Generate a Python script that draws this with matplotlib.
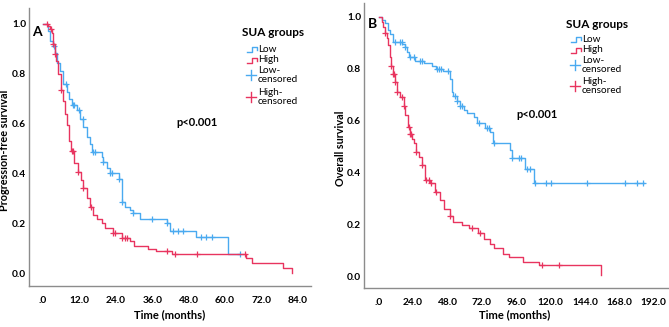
import numpy as np
import matplotlib
matplotlib.use("Agg")
import matplotlib.pyplot as plt
from matplotlib.lines import Line2D

# ---------------- data ----------------
# Panel A: progression-free survival (months)
a_low_t = [0, 1.7, 2.3, 3.2, 4, 4.5, 5.6, 6.7, 7.8, 8.7, 9.5, 11.1, 12.2, 13.3, 14.4, 15.5, 16,
           19.3, 19.9, 21, 22, 25.1, 25.9, 26.2, 27, 28.7, 29.7, 32, 40.7, 41.8, 50.3, 61, 65]
a_low_s = [1.0, 0.97, 0.93, 0.91, 0.885, 0.845, 0.81, 0.76, 0.725, 0.70, 0.675, 0.655, 0.62, 0.585,
           0.545, 0.52, 0.487, 0.467, 0.447, 0.42, 0.403, 0.376, 0.333, 0.286, 0.266, 0.253, 0.24,
           0.217, 0.20, 0.169, 0.145, 0.075, 0.075]
a_low_cens = [3.7, 7.6, 9.8, 10.3, 12.0, 13.1, 16.6, 17.3, 19.9, 22.0, 22.6, 25.1, 26.2, 29.7, 35.8,
              40.7, 42.9, 44.4, 46.2, 52.0, 53.7, 55.6, 64.9]

a_high_t = [0, 1.5, 2.3, 2.9, 3.4, 4, 4.3, 5, 5.8, 6.5, 7.2, 7.8, 8.7, 9.1, 10.2, 11.6, 12.4, 13.3,
            14.4, 15.5, 16.6, 17.7, 19.3, 20.4, 23.2, 25.9, 28.7, 30, 34.7, 37.4, 42.4, 66.8, 68.7,
            79.1, 82, 82]
a_high_s = [1.0, 0.99, 0.98, 0.965, 0.92, 0.88, 0.85, 0.80, 0.735, 0.69, 0.64, 0.595, 0.53, 0.49,
            0.44, 0.407, 0.373, 0.34, 0.30, 0.266, 0.233, 0.216, 0.20, 0.18, 0.162, 0.14, 0.13,
            0.108, 0.097, 0.088, 0.077, 0.059, 0.04, 0.02, 0.0, 0.0]
a_high_cens = [1.2, 2.6, 3.4, 4.0, 5.9, 9.5, 10.0, 11.6, 13.3, 15.7, 23.2, 23.8, 26.1, 27.0, 27.8,
               40.7, 43.5, 50.6, 66.5]

# Panel B: overall survival (months)
b_low_t = [0, 2, 4.5, 6.5, 8, 9.7, 16.5, 18.4, 19.8, 21, 25.4, 31.3, 37, 40, 45.2, 49.9, 51, 52.2,
           54.5, 56.9, 59.2, 61.5, 66.5, 68.5, 74, 78, 79.5, 91.8, 93, 101.9, 108.2, 185]
b_low_s = [1.0, 0.99, 0.976, 0.95, 0.935, 0.905, 0.895, 0.885, 0.865, 0.845, 0.832, 0.824, 0.81,
           0.80, 0.79, 0.76, 0.71, 0.695, 0.675, 0.655, 0.642, 0.63, 0.615, 0.59, 0.572, 0.555,
           0.513, 0.486, 0.455, 0.413, 0.36, 0.36]
b_low_cens = [11.6, 15, 16, 18.4, 21.9, 24.3, 28.9, 30.5, 40.6, 42.2, 43.6, 48.7, 53.4, 54.5, 56.9,
              58, 70, 75.5, 77, 80.2, 93.2, 97.8, 99, 103.7, 105.5, 109.4, 117, 120.6, 145.3,
              172.2, 180.4, 184.4]

b_high_t = [0, 2.1, 3.2, 4.4, 5.6, 6.8, 8, 8.7, 9.7, 11, 12.7, 15, 17.3, 18.4, 20.3, 21.9, 23.1,
            24.3, 26.1, 28, 30.1, 32.4, 35.9, 39.4, 42.9, 45.4, 49.9, 52.2, 58, 62.7, 69, 73.2,
            77.4, 80.6, 86.6, 91.3, 100.7, 111.6, 155, 155]
b_high_s = [1.0, 0.98, 0.96, 0.94, 0.92, 0.89, 0.845, 0.81, 0.78, 0.75, 0.71, 0.69, 0.655, 0.62,
            0.575, 0.548, 0.53, 0.515, 0.48, 0.46, 0.43, 0.37, 0.36, 0.325, 0.293, 0.26, 0.23,
            0.21, 0.198, 0.184, 0.168, 0.145, 0.122, 0.107, 0.086, 0.072, 0.055, 0.042, 0.004,
            0.004]
b_high_cens = [4.4, 8.7, 9.7, 10.4, 11.2, 12.7, 16.3, 17.3, 20.9, 21.9, 22.5, 26.1, 30.3, 33.1,
               34.8, 36.4, 40.1, 49.9, 65, 70.4, 114, 125.8]

a_xticks = [0, 12, 24, 36, 48, 60, 72, 84]
a_xlabels = [".0", "12.0", "24.0", "36.0", "48.0", "60.0", "72.0", "84.0"]
b_xticks = [0, 24, 48, 72, 96, 120, 144, 168, 192]
b_xlabels = [".0", "24.0", "48.0", "72.0", "96.0", "120.0", "144.0", "168.0", "192.0"]
yticks = [0.0, 0.2, 0.4, 0.6, 0.8, 1.0]
ylabels = ["0.0", "0.2", "0.4", "0.6", "0.8", "1.0"]
legend_title = "SUA groups"
legend_entries = ["Low", "High", "Low-\ncensored", "High-\ncensored"]

# ---------------- style ----------------
BLUE = "#4aaaf0"
RED = "#e8345f"
SPINE = "#8c8c8c"
FONT = "Lato"
W, H = 669, 327

fig = plt.figure(figsize=(W / 100, H / 100), dpi=100)


def px_axes(l, r, t, b):
    return fig.add_axes([l / W, 1 - b / H, (r - l) / W, (b - t) / H])


def km(ax, t, s, cens, color):
    ax.step(t, s, where="post", color=color, lw=1.0)
    t = np.asarray(t)
    s = np.asarray(s)
    idx = np.searchsorted(t, cens, side="right") - 1
    ax.plot(cens, s[idx], ls="none", marker="+", ms=5, mew=0.9, color=color)


def style(ax, xt, xl, xlim, ylim):
    ax.set_xlim(*xlim)
    ax.set_ylim(*ylim)
    ax.set_xticks(xt)
    ax.set_xticklabels(xl)
    ax.set_yticks(yticks)
    ax.set_yticklabels(ylabels)
    for sp in ["top", "right"]:
        ax.spines[sp].set_visible(False)
    for sp in ["left", "bottom"]:
        ax.spines[sp].set_color(SPINE)
        ax.spines[sp].set_linewidth(1.0)
    ax.tick_params(length=0, labelsize=7.3)
    ax.tick_params(axis="y", pad=2)
    ax.tick_params(axis="x", pad=7)
    for lab in ax.get_xticklabels() + ax.get_yticklabels():
        lab.set_fontweight("bold")
        lab.set_family(FONT)


def legend(x0, ytitle, ys):
    fig.text((x0 + 16) / W, 1 - ytitle / H, legend_title, family=FONT, fontweight="bold",
             fontsize=8.5, ha="center", va="center")
    colors = [BLUE, RED, BLUE, RED]
    for i, (lab, y) in enumerate(zip(legend_entries, ys)):
        c = colors[i]
        if i < 2:
            xs = np.array([0, 0.45, 0.45, 1.0, 1.0]) * 10 + x0 - 10
            yy = y + np.array([3, 3, -2, -2, 1])
            fig.add_artist(Line2D(xs / W, 1 - yy / H, color=c, lw=1.0))
        else:
            fig.add_artist(Line2D([(x0 - 11) / W, (x0 - 1) / W], [1 - y / H] * 2, color=c, lw=1.0))
            fig.add_artist(Line2D([(x0 - 6) / W] * 2, [1 - (y - 5) / H, 1 - (y + 5) / H],
                                  color=c, lw=1.0))
        fig.text((x0 + 1) / W, 1 - y / H, lab, family=FONT, fontsize=7.2, ha="left",
                 va="center", linespacing=0.95)


# Panel A
axA = px_axes(29, 311, 8, 286)
km(axA, a_low_t, a_low_s, a_low_cens, BLUE)
km(axA, a_high_t, a_high_s, a_high_cens, RED)
style(axA, a_xticks, a_xlabels, (-4.6, 88.3), (-0.052, 1.064))
fig.text(5 / W, 1 - 150 / H, "Progression-free survival", rotation=90, family=FONT,
         fontweight="bold", fontsize=7.8, ha="center", va="center")
fig.text(170 / W, 1 - 315 / H, "Time (months)", family=FONT, fontweight="bold", fontsize=8,
         ha="center", va="center")
fig.text(37 / W, 1 - 32 / H, "A", family=FONT, fontweight="bold", fontsize=10, ha="center",
         va="center")
fig.text(197 / W, 1 - 122 / H, "p<0.001", family=FONT, fontweight="bold", fontsize=8,
         ha="center", va="center")
legend(257, 33, [49, 60, 75, 97])

# Panel B
axB = px_axes(364, 668, 3, 288)
km(axB, b_low_t, b_low_s, b_low_cens, BLUE)
km(axB, b_high_t, b_high_s, b_high_cens, RED)
style(axB, b_xticks, b_xlabels, (-10.3, 202), (-0.046, 1.054))
fig.text(340 / W, 1 - 148 / H, "Overall survival", rotation=90, family=FONT,
         fontweight="bold", fontsize=7.8, ha="center", va="center")
fig.text(515 / W, 1 - 315 / H, "Time (months)", family=FONT, fontweight="bold", fontsize=8,
         ha="center", va="center")
fig.text(372 / W, 1 - 24 / H, "B", family=FONT, fontweight="bold", fontsize=10, ha="center",
         va="center")
fig.text(537 / W, 1 - 115 / H, "p<0.001", family=FONT, fontweight="bold", fontsize=8,
         ha="center", va="center")
legend(581, 24, [39, 50, 65, 86])

fig.savefig("out.png", dpi=100)
